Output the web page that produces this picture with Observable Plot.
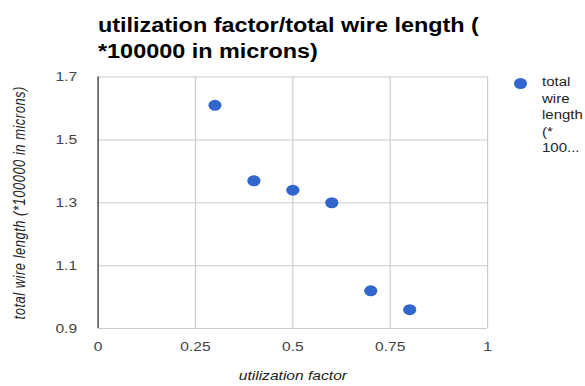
<!DOCTYPE html>
<html>
<head>
<meta charset="utf-8">
<script src="https://cdn.jsdelivr.net/npm/d3@7"></script>
<script src="https://cdn.jsdelivr.net/npm/@observablehq/plot@0.6"></script>
<style>
  html, body { margin: 0; padding: 0; background: #fff; }
  #wrap { position: relative; width: 585px; height: 386px; overflow: hidden; font-family: "Liberation Sans", Arial, sans-serif; }
  #chart svg { display: block; }
  /* the chart is laid out 20% narrower and widened to 585px; HTML text is widened to match */
  .wide { transform: scaleX(1.2); transform-origin: left top; }
  #title { position: absolute; left: 97.5px; top: 11.5px; font-size: 19.5px; font-weight: bold; line-height: 26px; color: #000; white-space: nowrap; }
  #legend-dot { position: absolute; left: 513.5px; top: 77.5px; width: 13px; height: 11px; border-radius: 50%; background: #3366cc; }
  #legend-text { position: absolute; left: 541.5px; top: 74px; font-size: 12.5px; line-height: 16.5px; color: #222; white-space: nowrap; }
</style>
</head>
<body>
<div id="wrap">
  <div id="chart"></div>
  <div id="title" class="wide">utilization factor/total wire length (<br>*100000 in microns)</div>
  <div id="legend-dot"></div>
  <div id="legend-text" class="wide">total<br>wire<br>length<br>(*<br>100...</div>
</div>
<script>
// utilization factor vs. total wire length (×100000 µm)
const utilization = [0.3, 0.4, 0.5, 0.6, 0.7, 0.8];
const wireLength = [1.61, 1.37, 1.34, 1.30, 1.02, 0.96];
const xTicks = [0, 0.25, 0.5, 0.75, 1];
const yTicks = [0.9, 1.1, 1.3, 1.5, 1.7];
const xLabel = "utilization factor";
const yLabel = "total wire length (*100000 in microns)";

const points = utilization.map((u, i) => ({u, w: wireLength[i]}));

const stretch = 1.2;      // horizontal widening applied to the whole SVG
const outWidth = 585;
const outHeight = 386;

const chart = Plot.plot({
  width: outWidth / stretch,
  height: outHeight,
  marginLeft: 97.5 / stretch,
  marginRight: 98 / stretch,
  marginTop: 76.5,
  marginBottom: 58,
  style: {fontFamily: "Liberation Sans, Arial, sans-serif", fontSize: "13px", color: "#444", background: "#fff", overflow: "visible"},
  x: {domain: [0, 1]},
  y: {domain: [0.9, 1.7]},
  marks: [
    Plot.gridX(xTicks, {stroke: "#cccccc", strokeOpacity: 1}),
    Plot.gridY(yTicks, {stroke: "#cccccc", strokeOpacity: 1}),
    Plot.ruleX([0], {stroke: "#333"}),
    Plot.axisX(xTicks, {tickSize: 0, tickPadding: 13, tickFormat: d => String(d), label: null, fill: "#444"}),
    Plot.axisY(yTicks, {tickSize: 0, tickPadding: 17.5, tickFormat: d => String(d), label: null, fill: "#444"}),
    Plot.text([xLabel], {frameAnchor: "bottom", dy: 51, text: d => d, fontStyle: "italic", fontSize: 13, fill: "#222"}),
    Plot.text([yLabel], {frameAnchor: "left", textAnchor: "middle", dx: 19 / stretch - 97.5 / stretch, rotate: -90, text: d => d, fontStyle: "italic", fontSize: 13, fill: "#222"}),
    Plot.dot(points, {x: "u", y: "w", r: 5.5, fill: "#3366cc", stroke: null})
  ]
});
chart.setAttribute("width", outWidth);
chart.setAttribute("height", outHeight);
chart.setAttribute("preserveAspectRatio", "none");

// loosen the vertical axis title a little
d3.select(chart).selectAll("text")
  .filter(function () { return this.textContent === yLabel; })
  .attr("letter-spacing", "0.5px");

document.getElementById("chart").appendChild(chart);
</script>
</body>
</html>
